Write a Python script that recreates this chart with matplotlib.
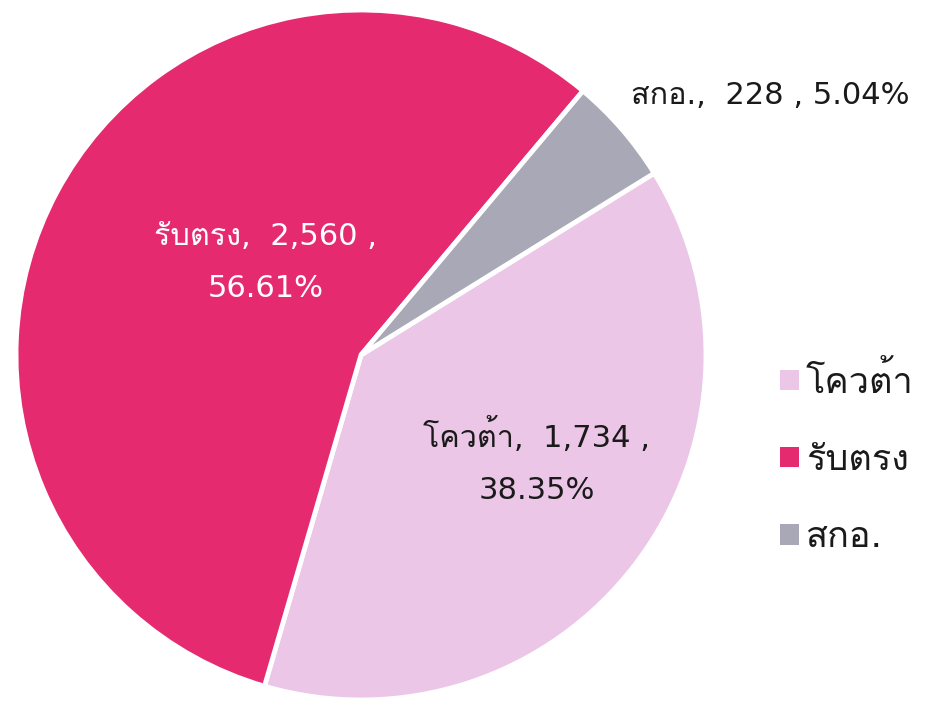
import matplotlib
matplotlib.use("Agg")
import matplotlib.pyplot as plt

labels = ["โควต้า", "รับตรง", "สกอ."]
values = [1734, 2560, 228]
percents = ["38.35%", "56.61%", "5.04%"]
colors = ["#EBC6E7", "#E62A70", "#A8A8B6"]

plt.rcParams['font.family'] = ['DejaVu Sans', 'Loma']

fig = plt.figure(figsize=(9.28, 7.09), dpi=100)
ax = fig.add_axes([0, 0, 1, 1])

wedges, _ = ax.pie(values, colors=colors, startangle=31.8, counterclock=False,
                   center=(361, 709 - 355), radius=345,
                   wedgeprops=dict(edgecolor='white', linewidth=3.5))
ax.set_xlim(0, 928)
ax.set_ylim(0, 709)
ax.set_aspect('equal')
ax.axis('off')

fs = 22
ax.text(266, 709 - 263, "%s,  %s ,\n%s" % (labels[1], f"{values[1]:,}", percents[1]),
        ha='center', va='center', fontsize=fs, color='white', linespacing=2.0)
ax.text(537, 709 - 461, "%s,  %s ,\n%s" % (labels[0], f"{values[0]:,}", percents[0]),
        ha='center', va='center', fontsize=fs, color='#1a1a1a', linespacing=2.0)
ax.text(770, 709 - 95, "%s,  %s , %s" % (labels[2], values[2], percents[2]),
        ha='center', va='center', fontsize=fs, color='#1a1a1a')

ax.legend(wedges, labels, loc='center left', bbox_to_anchor=(748 / 928, 1 - 458 / 709),
          frameon=False, fontsize=26, handlelength=0.5, handleheight=0.5,
          labelspacing=1.2, handletextpad=0.2, labelcolor='#1a1a1a')
for h in ax.get_legend().legend_handles:
    h.set_linewidth(0)

fig.savefig("out.png", dpi=100)
